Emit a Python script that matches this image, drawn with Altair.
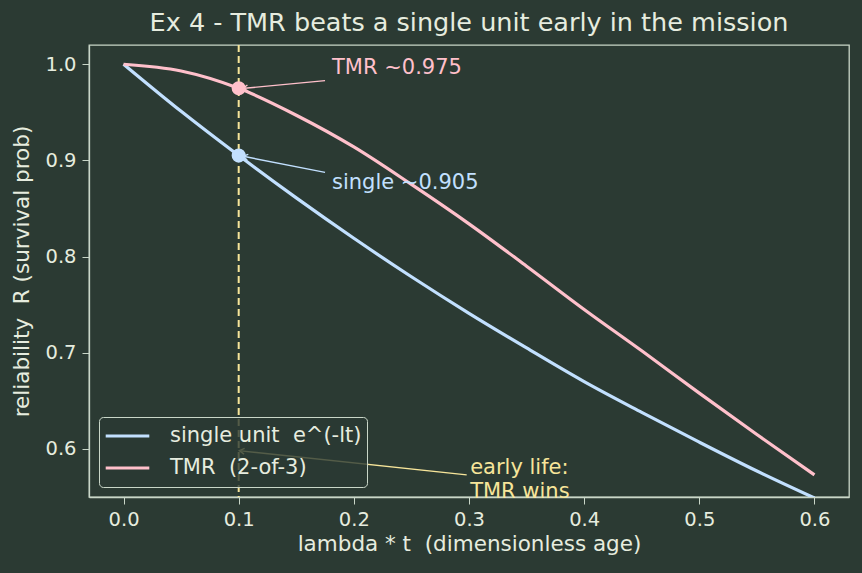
import altair as alt
import pandas as pd

# ---- data ----
age = [0.0, 0.05, 0.1, 0.15, 0.2, 0.25, 0.3, 0.35, 0.4, 0.45, 0.5, 0.55, 0.6]
single_r = [1.0, 0.951, 0.905, 0.861, 0.819, 0.779, 0.741, 0.705, 0.670, 0.638, 0.607, 0.577, 0.549]
tmr_r = [1.0, 0.993, 0.975, 0.947, 0.914, 0.875, 0.834, 0.790, 0.745, 0.702, 0.658, 0.615, 0.573]
NB = "\u00a0"
series_names = ["single unit" + NB + NB + "e^(-lt)", "TMR" + NB + NB + "(2-of-3)"]

mark_x = 0.1
mark_vals = [0.905, 0.975]

ann_text = ["TMR ~0.975", "single ~0.905", "early life:", "TMR wins"]
ann_tx = [0.181, 0.181, 0.301, 0.301]
ann_ty = [0.996, 0.877, 0.580, 0.555]
ann_col = ["#ffc0cb", "#c2e0ff", "#f7e59a", "#f7e59a"]

arr_x0 = [0.175, 0.175, 0.298]
arr_y0 = [0.983, 0.8875, 0.573]
arr_x1 = [0.105, 0.105, 0.102]
arr_y1 = [0.975, 0.904, 0.598]
arr_ang = [263, 281, 276]
arr_col = ["#ffc0cb", "#c2e0ff", "#f7e59a"]

BG = "#2b3a33"
FG = "#e6ecdf"
SPINE = "#c9d6c8"
FONT = "DejaVu Sans"
BLUE = "#c2e0ff"
PINK = "#ffc0cb"
YEL = "#f7e59a"

rows = []
for i, a in enumerate(age):
    rows.append({"age": a, "R": single_r[i], "series": series_names[0]})
    rows.append({"age": a, "R": tmr_r[i], "series": series_names[1]})
df = pd.DataFrame(rows)

xs = alt.Scale(domain=[-0.03, 0.63], nice=False, zero=False)
ys = alt.Scale(domain=[0.55, 1.02], nice=False, zero=False)

X = alt.X("age:Q", scale=xs,
          axis=alt.Axis(values=[0, 0.1, 0.2, 0.3, 0.4, 0.5, 0.6], format=".1f",
                        title="lambda * t" + NB + NB + "(dimensionless age)"))
Y = alt.Y("R:Q", scale=ys,
          axis=alt.Axis(values=[0.6, 0.7, 0.8, 0.9, 1.0], format=".1f",
                        title="reliability" + NB + NB + "R (survival prob)"))

lines = alt.Chart(df).mark_line(strokeWidth=3.2, clip=True, interpolate="monotone").encode(
    x=X, y=Y,
    color=alt.Color("series:N",
                    scale=alt.Scale(domain=series_names, range=[BLUE, PINK]),
                    sort=series_names,
                    legend=alt.Legend(title=None, orient="bottom-left",
                                      symbolType="stroke", symbolStrokeWidth=3.2,
                                      symbolSize=1900, labelFontSize=21,
                                      labelColor=FG, labelFont=FONT,
                                      labelOffset=19, labelLimit=0,
                                      clipHeight=28,
                                      fillColor="rgba(43,58,51,0.8)",
                                      strokeColor=SPINE, cornerRadius=4,
                                      padding=5, offset=10, rowPadding=4)),
    detail="series:N",
)

vline = alt.Chart(pd.DataFrame({"age": [mark_x]})).mark_rule(
    color=YEL, strokeWidth=2, strokeDash=[7, 4]).encode(x=alt.X("age:Q", scale=xs))

pts = alt.Chart(pd.DataFrame({"age": [mark_x, mark_x], "R": mark_vals,
                              "c": [BLUE, PINK]})).mark_point(
    filled=True, size=200, opacity=1).encode(
    x=alt.X("age:Q", scale=xs), y=alt.Y("R:Q", scale=ys),
    color=alt.Color("c:N", scale=None))

arr_df = pd.DataFrame({"x0": arr_x0, "y0": arr_y0, "x1": arr_x1, "y1": arr_y1,
                       "c": arr_col, "ang": arr_ang})
arrows = alt.Chart(arr_df).mark_rule(strokeWidth=1.4).encode(
    x=alt.X("x0:Q", scale=xs), y=alt.Y("y0:Q", scale=ys),
    x2="x1:Q", y2="y1:Q", color=alt.Color("c:N", scale=None))
heads = alt.Chart(arr_df).mark_point(
    shape="M -0.7 0.8 L 0 -0.4 L 0.7 0.8", filled=False, size=70,
    strokeWidth=1.4, opacity=1).encode(
    x=alt.X("x1:Q", scale=xs), y=alt.Y("y1:Q", scale=ys),
    angle=alt.Angle("ang:Q", scale=None),
    color=alt.Color("c:N", scale=None))

txt = alt.Chart(pd.DataFrame({"x": ann_tx, "y": ann_ty, "t": ann_text,
                              "c": ann_col})).mark_text(
    align="left", baseline="middle", fontSize=21, font=FONT).encode(
    x=alt.X("x:Q", scale=xs), y=alt.Y("y:Q", scale=ys), text="t:N",
    color=alt.Color("c:N", scale=None))

chart = alt.layer(vline, lines, arrows, heads, pts, txt).properties(
    width=760, height=452,
    title=alt.TitleParams("Ex 4 - TMR beats a single unit early in the mission",
                          fontSize=25.5, font=FONT, color=FG, fontWeight="normal",
                          offset=8),
    background=BG,
    autosize=alt.AutoSizeParams(type="none"),
    padding={"left": 89, "top": 45, "right": 13, "bottom": 76},
).configure_view(stroke=SPINE, strokeWidth=1.3).configure_axis(
    grid=False, domainColor=SPINE, domainWidth=1.3, tickColor=SPINE, tickSize=7,
    labelColor=FG, titleColor=FG, labelFont=FONT, titleFont=FONT,
    labelFontSize=19.5, titleFontSize=21.5, titleFontWeight="normal", labelPadding=6,
).configure_axisX(titlePadding=5).configure_axisY(titlePadding=11)

chart.save("out.html", embed_options={"renderer": "svg", "actions": False})
